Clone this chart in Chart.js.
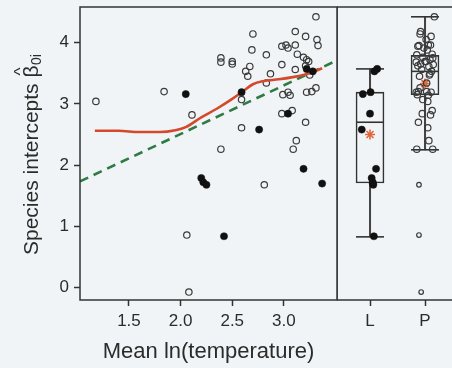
<!DOCTYPE html>
<html><head><meta charset="utf-8">
<script src="https://cdn.jsdelivr.net/npm/chart.js@4.4.1/dist/chart.umd.min.js"></script>
<style>
html,body{margin:0;padding:0;background:#f1f4f6;overflow:hidden;width:452px;height:368px;}
#left{position:absolute;left:0;top:0;}
#right{position:absolute;left:337px;top:0;}
</style></head><body>
<canvas id="left" width="338" height="368"></canvas>
<canvas id="right" width="140" height="368"></canvas>
<script>
// ---- data ----
const xTicks = [1.5, 2.0, 2.5, 3.0];
const yTicks = [0, 1, 2, 3, 4];
const groups = ['L', 'P'];
const xTitle = 'Mean ln(temperature)';
const yTitleMain = 'Species intercepts';
const yTitleSym = '\u03B2';
const yTitleHat = '^';
const yTitleSub = '0i';

// open circles (group P): mean ln(temperature), intercept
const pTemp = [1.18,1.84,2.11,2.06,2.08,2.39,2.39,2.50,2.50,2.39,2.59,2.59,2.63,2.65,2.67,2.70,2.69,2.81,2.83,2.87,2.83,2.98,3.02,3.04,2.98,2.99,3.04,3.06,2.98,3.08,3.11,3.11,3.13,3.11,3.12,3.09,3.21,3.21,3.19,3.24,3.22,3.27,3.31,3.25,3.31,3.32,3.33,3.22,3.21];
const pBeta = [3.04,3.20,2.82,0.86,-0.07,3.75,3.68,3.69,3.65,2.26,2.61,3.07,3.53,3.45,3.61,4.14,3.88,1.68,3.80,3.49,3.34,3.94,3.96,3.91,3.64,3.15,3.19,3.14,2.84,2.89,4.18,3.96,3.81,3.56,2.40,2.26,4.10,2.70,3.76,3.69,3.19,3.20,3.26,3.47,4.42,4.05,3.95,3.72,3.62];
const pJitter = [0.05,-0.12,0.10,-0.11,-0.07,0.14,-0.16,0.02,-0.08,0.14,0.05,-0.04,0.12,-0.10,0.07,-0.09,0.04,-0.11,-0.15,0.09,0.03,-0.13,0.10,-0.02,0.15,-0.14,0.11,0.06,-0.05,0.13,-0.08,0.06,0.13,-0.06,0.07,-0.15,0.11,-0.12,-0.04,0.00,-0.16,0.03,-0.09,0.08,0.17,0.02,-0.11,0.09,-0.13];

// filled circles (group L)
const lTemp = [2.05,2.59,2.76,3.04,3.19,3.37,2.20,2.22,2.25,2.42,3.28,3.22];
const lBeta = [3.16,3.19,2.58,2.84,1.94,1.70,1.79,1.72,1.68,0.84,3.53,3.57];
const lJitter = [-0.13,0.01,-0.15,0.00,0.11,0.05,0.03,0.05,0.06,0.07,0.08,0.13];

// smooth (red) and linear (green dashed) fits
const loessTemp = [1.17,1.40,1.60,1.80,1.95,2.05,2.20,2.35,2.50,2.60,2.70,2.80,2.95,3.10,3.25,3.37];
const loessBeta = [2.56,2.56,2.54,2.54,2.57,2.62,2.78,2.92,3.08,3.20,3.32,3.37,3.40,3.44,3.50,3.58];
const lmTemp = [1.026, 3.514];
const lmBeta = [1.735, 3.71];

// box plot summaries for L and P
const boxMin  = [0.83, 2.25];
const boxQ1   = [1.71, 3.15];
const boxMed  = [2.70, 3.53];
const boxQ3   = [3.19, 3.79];
const boxMax  = [3.57, 4.42];
const boxMean = [2.50, 3.33];

// ---- styles ----
const FONT = "'Liberation Sans', Arial, sans-serif";
const INK = '#2b2b2b';
const BG = '#f1f4f6';
const tickFont = {family: FONT, size: 17};

const frame = {
  id: 'frame',
  afterDatasetsDraw(chart) {
    const {ctx, chartArea: a} = chart;
    ctx.save();
    ctx.strokeStyle = '#333';
    ctx.lineWidth = 1.5;
    ctx.strokeRect(a.left, a.top, a.right - a.left, a.bottom - a.top);
    ctx.restore();
  }
};

// y-axis title with hat and subscript, drawn as text beside the y scale
const yTitle = {
  id: 'yTitle',
  afterDraw(chart) {
    const ctx = chart.ctx;
    const y = chart.scales.y;
    ctx.save();
    ctx.fillStyle = INK;
    ctx.translate(y.left + 38, 255);
    ctx.rotate(-Math.PI / 2);
    ctx.textBaseline = 'alphabetic';
    ctx.textAlign = 'left';
    ctx.font = "21px " + FONT;
    ctx.fillText(yTitleMain, 0, 0);
    let pos = ctx.measureText(yTitleMain + ' ').width;
    const bw = ctx.measureText(yTitleSym).width;
    ctx.fillText(yTitleSym, pos, 0);
    ctx.font = "17px " + FONT;
    const hw = ctx.measureText(yTitleHat).width;
    ctx.fillText(yTitleHat, pos + (bw - hw) / 2, -12);
    ctx.font = "14px " + FONT;
    ctx.fillText(yTitleSub, pos + bw + 0.5, 3);
    ctx.restore();
  }
};

const gridOpts = {drawOnChartArea: false, drawTicks: true, tickLength: 6, tickColor: '#333', tickWidth: 1.5, offset: false};
const noPad = s => { s.paddingTop = 0; s.paddingBottom = 0; s.paddingLeft = 0; s.paddingRight = 0; };

const pts = (xs, ys) => xs.map((x, i) => ({x: x, y: ys[i]}));

new Chart(document.getElementById('left'), {
  type: 'scatter',
  data: {datasets: [
    {type: 'scatter', data: pts(lTemp, lBeta), pointRadius: 3.6, pointBackgroundColor: '#111', pointBorderColor: '#111', pointBorderWidth: 0.5, order: 0},
    {type: 'line', data: pts(loessTemp, loessBeta), showLine: true, borderColor: '#d4482c', borderWidth: 2.6, pointRadius: 0, cubicInterpolationMode: 'monotone', fill: false, order: 1},
    {type: 'line', data: pts(lmTemp, lmBeta), showLine: true, borderColor: '#2f7a45', borderWidth: 2.6, borderDash: [9, 6], pointRadius: 0, fill: false, order: 2},
    {type: 'scatter', data: pts(pTemp, pBeta), pointRadius: 3.2, pointBackgroundColor: 'rgba(0,0,0,0)', pointBorderColor: '#3a3a3a', pointBorderWidth: 1.2, order: 3}
  ]},
  options: {
    responsive: false, devicePixelRatio: 1, animation: false,
    layout: {autoPadding: false, padding: {top: 7, right: 1, left: 0, bottom: 0}},
    plugins: {legend: {display: false}, tooltip: {enabled: false}},
    scales: {
      x: {
        type: 'linear', min: 1.026, max: 3.514, offset: false,
        afterBuildTicks: s => { s.ticks = xTicks.map(v => ({value: v})); },
        ticks: {font: tickFont, color: INK, padding: 5, maxRotation: 0, autoSkip: false, callback: v => Number(v).toFixed(1)},
        grid: gridOpts, border: {display: false},
        title: {display: true, text: xTitle, color: INK, font: {family: FONT, size: 22}, padding: {top: 0, bottom: 3}},
        afterFit: s => { s.height = 68; noPad(s); }
      },
      y: {
        type: 'linear', min: -0.2, max: 4.58,
        afterBuildTicks: s => { s.ticks = yTicks.map(v => ({value: v})); },
        ticks: {font: tickFont, color: INK, padding: 5, callback: v => String(v)},
        grid: gridOpts, border: {display: false},
        title: {display: false},
        afterFit: s => { s.width = 80; noPad(s); }
      }
    }
  },
  plugins: [frame, yTitle]
});

const lRight = lBeta.map((b, i) => ({x: 1 + lJitter[i], y: b}));
const pRight = pBeta.map((b, i) => ({x: 2 + pJitter[i], y: b}));
const gx = groups.map((g, i) => i + 1);

new Chart(document.getElementById('right'), {
  type: 'scatter',
  data: {datasets: [
    {type: 'scatter', data: lRight, pointRadius: 3.6, pointBackgroundColor: '#111', pointBorderColor: '#111', pointBorderWidth: 0.5, order: 0},
    {type: 'scatter', data: pRight, pointRadius: ctx => (ctx.raw && ctx.raw.y < boxMin[1]) ? 2.3 : 3.2,
     pointBackgroundColor: 'rgba(0,0,0,0)', pointBorderColor: '#3a3a3a', pointBorderWidth: 1.2, order: 1},
    {type: 'scatter', data: gx.map((x, i) => ({x: x, y: boxMean[i]})), pointStyle: 'star', pointRadius: 5, pointBorderColor: '#e2683c', pointBorderWidth: 1.6, order: 2},
    {type: 'scatter', data: gx.flatMap((x, i) => [{x: x, y: boxMed[i]}, {x: x, y: boxMin[i]}, {x: x, y: boxMax[i]}]),
     pointStyle: 'line', pointRadius: 14, pointBorderColor: '#333', pointBorderWidth: 1.6, order: 3},
    {type: 'bar', data: gx.map((x, i) => ({x: x, y: [boxQ1[i], boxQ3[i]]})), backgroundColor: BG, borderColor: '#333', borderWidth: 1.6,
     borderSkipped: false, barThickness: 28, grouped: false, order: 4},
    {type: 'bar', data: gx.map((x, i) => ({x: x, y: [boxMin[i], boxMax[i]]})), backgroundColor: '#444', borderWidth: 0,
     barThickness: 1.4, grouped: false, order: 5}
  ]},
  options: {
    responsive: false, devicePixelRatio: 1, animation: false,
    layout: {autoPadding: false, padding: {top: 7, right: 0, left: 0, bottom: 0}},
    plugins: {legend: {display: false}, tooltip: {enabled: false}},
    scales: {
      x: {
        type: 'linear', min: 0.4, max: 2.945, offset: false,
        afterBuildTicks: s => { s.ticks = gx.map(v => ({value: v})); },
        ticks: {font: tickFont, color: INK, padding: 5, maxRotation: 0, autoSkip: false, callback: v => groups[Math.round(v) - 1] || ''},
        grid: gridOpts, border: {display: false},
        afterFit: s => { s.height = 68; noPad(s); }
      },
      y: {type: 'linear', min: -0.2, max: 4.58, display: false, beginAtZero: false}
    }
  },
  plugins: [frame]
});
</script>
</body></html>
